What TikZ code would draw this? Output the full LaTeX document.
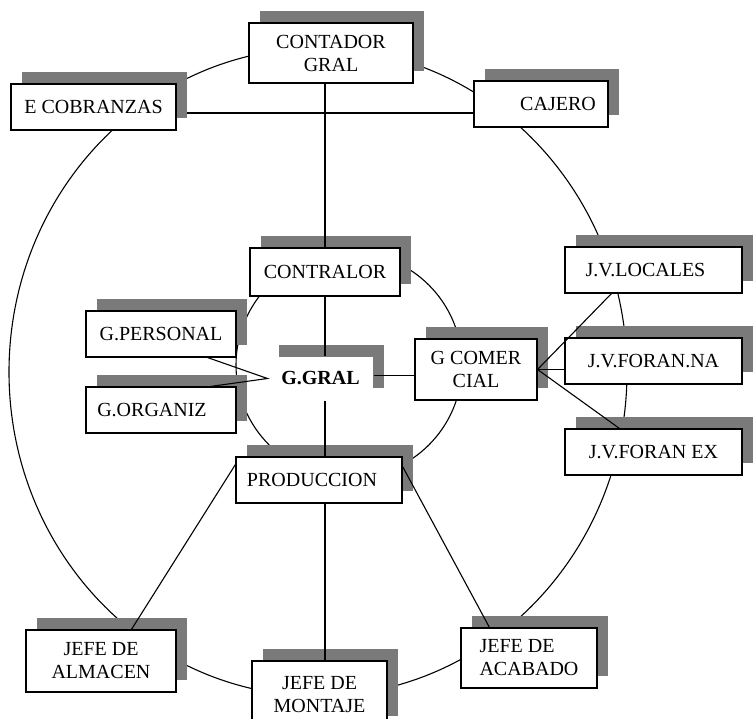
\documentclass[tikz,border=0pt]{standalone}
\usepackage{fontspec}
\newfontfamily\orgfont{Liberation Serif}
\usetikzlibrary{shadows,backgrounds}
\begin{document}
\begin{tikzpicture}[x=1pt,y=-1pt,
  orgbox/.style={draw, line width=1.1pt, fill=white, inner sep=0pt,
    font=\orgfont\fontsize{20}{23}\selectfont,
    general shadow={fill=black!52, shadow xshift=11pt, shadow yshift=12pt}},
  link/.style={line width=1.1pt}]
\useasboundingbox (0,0) rectangle (755,719);
\clip (0,0) rectangle (755,719);

% outer ring of positions
\node[orgbox, align=center, minimum width=164, minimum height=60] (cont) at (331,53) {CONTADOR\\GRAL};
\node[orgbox, minimum width=165, minimum height=46] (cob) at (93.5,107) {E COBRANZAS};
\node[orgbox, minimum width=134, minimum height=46] (caj) at (541,104) {\hspace*{34pt}CAJERO};
\node[orgbox, minimum width=177, minimum height=46] (jvl) at (653.5,270) {J.V.LOCALES\hspace*{16pt}};
\node[orgbox, minimum width=177, minimum height=46] (jvna) at (653.5,361) {J.V.FORAN.NA};
\node[orgbox, minimum width=177, minimum height=46] (jvex) at (653.5,452) {J.V.FORAN EX};
\node[orgbox, align=left, minimum width=136, minimum height=60] (acab) at (529,658) {JEFE DE\\ACABADO};
\node[orgbox, align=center, minimum width=135, minimum height=67] (mon) at (319.5,694.5) {JEFE DE\\MONTAJE};
\node[orgbox, align=center, minimum width=150, minimum height=62] (alm) at (101,661) {JEFE DE\\ALMACEN};

% inner ring
\node[orgbox, minimum width=150, minimum height=48] (ctrl) at (325,272) {CONTRALOR};
\node[orgbox, minimum width=150, minimum height=46] (gper) at (161,334) {G.PERSONAL};
\node[orgbox, minimum width=150, minimum height=46] (gorg) at (161,410) {G.ORGANIZ\hspace*{18pt}};
\node[orgbox, draw=none, minimum width=105, minimum height=43, font=\orgfont\bfseries\fontsize{20}{23}\selectfont] (ggral) at (320.5,378.5) {\raisebox{-4pt}{G.GRAL}};
\node[orgbox, align=center, minimum width=122, minimum height=61] (gcom) at (476,369.5) {G COMER\\CIAL};
\node[orgbox, minimum width=166, minimum height=46] (prod) at (319,480) {PRODUCCION\hspace*{14pt}};

\begin{scope}[on background layer]
  \draw[link] (318,372) ellipse [x radius=309, y radius=324];
  \draw[link] (349,365) circle [radius=113];
  \draw[link] ([yshift=-6pt]cob.east) -- ([yshift=-6pt]cob.east -| caj.west);
\end{scope}

% vertical axis
\draw[link] (ctrl.north |- cont.south) -- (ctrl.north);
\draw[link] (ctrl.south) -- (ctrl.south |- ggral.north);
\draw[link] (ggral.south -| ctrl.south) -- (prod.north -| ctrl.south);
\draw[link] (prod.south -| ctrl.south) -- (mon.north -| ctrl.south);

% staff links of the general manager
\draw[link] ([xshift=-29pt]gper.south east) -- (ggral.west) -- ([xshift=-26pt]gorg.north east);
\draw[link] ([yshift=3pt]ggral.east) -- ([yshift=3pt]ggral.east -| gcom.west);

% sales branch
\draw[link] ([xshift=47pt]jvl.south west) -- (gcom.east);
\draw[link] (gcom.east) -- (gcom.east -| jvna.west);
\draw[link] (gcom.east) -- ([xshift=55pt]jvex.north west);

% production branch
\draw[link] ([yshift=-8pt]prod.north west) -- ([xshift=106pt]alm.north west);
\draw[link] ([yshift=-10pt]prod.north east) -- ([xshift=29pt]acab.north west);
\end{tikzpicture}
\end{document}
